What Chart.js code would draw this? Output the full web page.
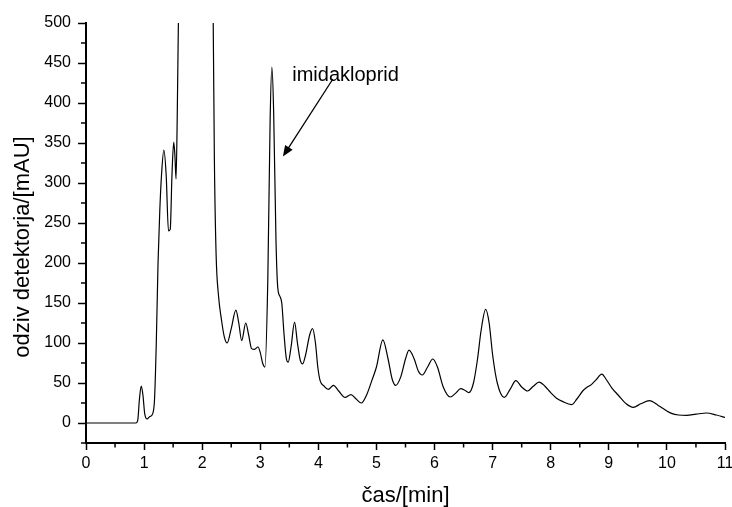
<!DOCTYPE html>
<html lang="sl">
<head>
  <meta charset="UTF-8" />
  <title>Kromatogram</title>
  <style>
    html, body { margin: 0; padding: 0; background: #fff; }
    #wrap { width: 732px; height: 507px; }
  </style>
</head>
<body>
  <div id="wrap"><canvas id="chrom" width="732" height="507"></canvas></div>
  <script src="https://cdn.jsdelivr.net/npm/chart.js"></script>
  <script>
    // retention time [min]
    const timeMin = [0, 0.86, 0.89, 0.92, 0.95, 0.98, 1.01, 1.05, 1.1, 1.15, 1.18, 1.21, 1.24, 1.27, 1.3, 1.34, 1.38, 1.42, 1.45, 1.48, 1.51, 1.53, 1.55, 1.57, 1.6, 1.7, 1.9, 2.1, 2.17, 2.19, 2.21, 2.24, 2.28, 2.33, 2.38, 2.43, 2.5, 2.58, 2.63, 2.68, 2.75, 2.8, 2.85, 2.9, 2.96, 3.0, 3.04, 3.08, 3.13, 3.17, 3.2, 3.23, 3.27, 3.3, 3.34, 3.37, 3.41, 3.45, 3.48, 3.53, 3.59, 3.64, 3.69, 3.73, 3.78, 3.85, 3.9, 3.95, 3.99, 4.03, 4.1, 4.17, 4.26, 4.35, 4.46, 4.56, 4.65, 4.74, 4.83, 4.92, 5.0, 5.11, 5.2, 5.27, 5.33, 5.42, 5.5, 5.56, 5.65, 5.72, 5.79, 5.88, 5.97, 6.05, 6.15, 6.27, 6.36, 6.45, 6.52, 6.59, 6.67, 6.74, 6.8, 6.88, 6.94, 7.0, 7.08, 7.2, 7.3, 7.4, 7.5, 7.6, 7.7, 7.8, 7.9, 8.0, 8.1, 8.2, 8.36, 8.45, 8.55, 8.63, 8.7, 8.78, 8.88, 8.95, 9.05, 9.16, 9.3, 9.42, 9.55, 9.7, 9.85, 10.0, 10.08, 10.2, 10.34, 10.5, 10.68, 10.85, 11.0];
    // detector response [mAU]
    const signal = [0, 0, 3, 30, 46, 35, 12, 5, 8, 12, 30, 100, 200, 265, 310, 341, 310, 240, 242, 310, 351, 335, 305, 380, 560, 1200, 1500, 900, 600, 500, 330, 210, 160, 130, 108, 100, 118, 141, 125, 103, 125, 110, 93, 92, 95, 88, 75, 70, 180, 380, 445, 390, 230, 170, 158, 150, 110, 80, 76, 95, 126, 100, 78, 74, 85, 110, 118, 100, 70, 53, 46, 42, 47, 40, 32, 35.5, 30, 25, 35, 53, 70, 104, 80, 55, 47, 58, 80, 91, 80, 65, 60, 70, 80, 70, 45, 32.5, 37, 43, 41, 38, 50, 80, 115, 142, 125, 85, 50, 32, 42, 53, 45, 40, 46, 51, 46, 38, 31, 27, 23, 30, 40, 45, 48, 54, 61, 55, 44, 35, 24, 19.5, 24, 28, 22, 15, 12, 10, 9.5, 11, 12.5, 10, 7];

    const peakLabel = 'imidakloprid';
    const labelAt = { x: 3.55, y: 435 };
    const arrowFrom = { x: 4.25, y: 430 };
    const arrowTo = { x: 3.39, y: 333 };

    const xTitle = 'čas/[min]';
    const yTitle = 'odziv detektorja/[mAU]';
    const FONT = '"Liberation Sans", Arial, Helvetica, sans-serif';

    // minor ticks + annotation + y title
    const decor = {
      id: 'decor',
      afterDraw(chart) {
        const ctx = chart.ctx, xs = chart.scales.x, ys = chart.scales.y, a = chart.chartArea;
        ctx.save();
        ctx.strokeStyle = '#000';
        ctx.lineWidth = 1.5;
        ctx.beginPath();
        for (let v = xs.min + 0.5; v < xs.max; v += 1) {
          const px = xs.getPixelForValue(v);
          ctx.moveTo(px, a.bottom); ctx.lineTo(px, a.bottom + 4.5);
        }
        for (let v = ys.min; v < ys.max; v += 50) {
          const py = ys.getPixelForValue(v);
          ctx.moveTo(a.left, py); ctx.lineTo(a.left - 5, py);
        }
        ctx.stroke();

        // arrow
        const x1 = xs.getPixelForValue(arrowFrom.x), y1 = ys.getPixelForValue(arrowFrom.y);
        const x2 = xs.getPixelForValue(arrowTo.x), y2 = ys.getPixelForValue(arrowTo.y);
        const ang = Math.atan2(y2 - y1, x2 - x1);
        const hl = 11, hw = 4.5;
        ctx.lineWidth = 1.3;
        ctx.beginPath();
        ctx.moveTo(x1, y1);
        ctx.lineTo(x2 - Math.cos(ang) * hl * 0.8, y2 - Math.sin(ang) * hl * 0.8);
        ctx.stroke();
        ctx.fillStyle = '#000';
        ctx.beginPath();
        ctx.moveTo(x2, y2);
        ctx.lineTo(x2 - Math.cos(ang) * hl + Math.sin(ang) * hw, y2 - Math.sin(ang) * hl - Math.cos(ang) * hw);
        ctx.lineTo(x2 - Math.cos(ang) * hl - Math.sin(ang) * hw, y2 - Math.sin(ang) * hl + Math.cos(ang) * hw);
        ctx.closePath();
        ctx.fill();

        ctx.font = '20px ' + FONT;
        ctx.textAlign = 'left';
        ctx.textBaseline = 'middle';
        ctx.fillText(peakLabel, xs.getPixelForValue(labelAt.x), ys.getPixelForValue(labelAt.y));

        // y axis title
        ctx.translate(29, (a.top + a.bottom) / 2 + 14);
        ctx.rotate(-Math.PI / 2);
        ctx.font = '22px ' + FONT;
        ctx.textAlign = 'center';
        ctx.textBaseline = 'alphabetic';
        ctx.fillText(yTitle, 0, 0);
        ctx.restore();
      }
    };

    new Chart(document.getElementById('chrom'), {
      type: 'line',
      data: {
        datasets: [{
          data: timeMin.map((t, i) => ({ x: t, y: signal[i] })),
          borderColor: '#000',
          borderWidth: 1.2,
          pointRadius: 0,
          fill: false,
          cubicInterpolationMode: 'monotone',
          clip: 0
        }]
      },
      options: {
        responsive: false,
        animation: false,
        devicePixelRatio: 1,
        layout: { padding: { top: 23, right: 7, left: 0, bottom: 0 } },
        plugins: { legend: { display: false }, tooltip: { enabled: false } },
        scales: {
          x: {
            type: 'linear', min: 0, max: 11,
            afterFit(s) { s.height = 64; s.paddingLeft = 0; s.paddingRight = 0; },
            ticks: { stepSize: 1, color: '#000', padding: 4, maxRotation: 0, autoSkip: false, font: { family: FONT, size: 16 } },
            grid: { drawOnChartArea: false, drawTicks: true, tickLength: 7, tickWidth: 1.5, tickColor: '#000' },
            border: { color: '#000', width: 2 },
            title: { display: true, text: xTitle, color: '#000', padding: { top: 0, bottom: 0 }, font: { family: FONT, size: 22, lineHeight: 1.0 } }
          },
          y: {
            type: 'linear', min: -25, max: 500,
            afterFit(s) { s.width = 86; s.paddingTop = 0; s.paddingBottom = 0; },
            ticks: { stepSize: 50, includeBounds: false, color: '#000', padding: 7, font: { family: FONT, size: 16 } },
            grid: { drawOnChartArea: false, drawTicks: true, tickLength: 8, tickWidth: 1.5, tickColor: '#000' },
            border: { color: '#000', width: 2 }
          }
        }
      },
      plugins: [decor]
    });
  </script>
</body>
</html>
